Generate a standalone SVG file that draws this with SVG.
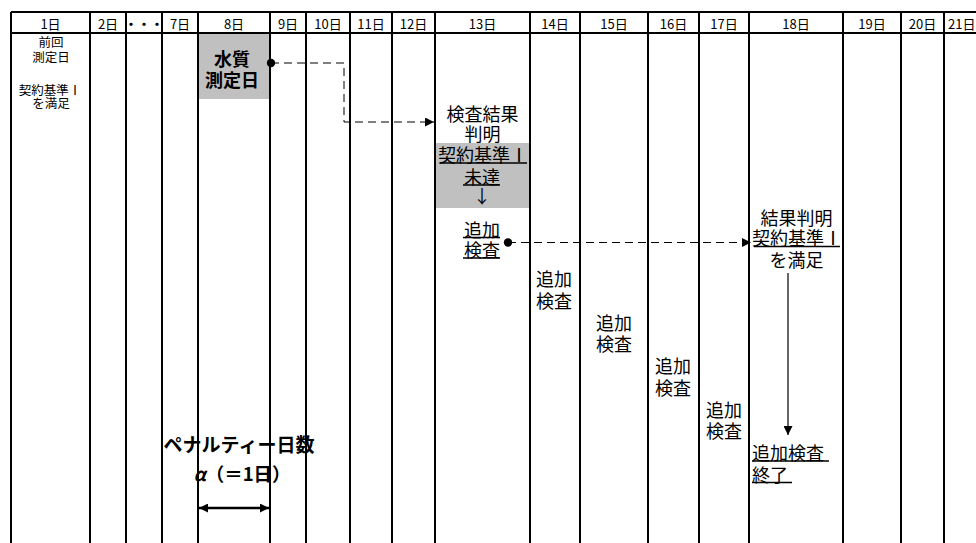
<svg xmlns="http://www.w3.org/2000/svg" width="976" height="543" viewBox="0 0 976 543">
<style>
.grid{stroke:#000;stroke-width:2;fill:none}
text{font-family:"Noto Sans CJK JP","Noto Sans CJK SC",sans-serif;fill:#000;dominant-baseline:central}
.hd{font-size:13px;text-anchor:middle}
.sm{font-size:12.5px;text-anchor:middle}
.t{font-size:18px;text-anchor:middle}
.ts{font-size:18px;text-anchor:start}
.b{font-weight:bold}
.gray{fill:#c0c0c0}
.dash{stroke:#000;stroke-width:1;stroke-dasharray:8 5;fill:none}
.ln{stroke:#000;stroke-width:1.2;fill:none}
.ul{stroke:#000;stroke-width:1.5}
</style>
<defs>
<marker id="ah" viewBox="0 0 10 10" refX="10" refY="5" markerWidth="10" markerHeight="9" orient="auto" markerUnits="userSpaceOnUse"><path d="M0,0 L10,5 L0,10 z" fill="#000" stroke="none"/></marker>
<marker id="ahs" viewBox="0 0 10 10" refX="0" refY="5" markerWidth="10" markerHeight="9" orient="auto" markerUnits="userSpaceOnUse"><path d="M10,0 L0,5 L10,10 z" fill="#000" stroke="none"/></marker>
</defs>

<g id="shading">
<rect class="gray" x="199" y="34" width="70" height="65"/>
<rect class="gray" x="436" y="143" width="93" height="65"/>
</g>

<g id="grid">
<path class="grid" d="M11,12 H976 M11,33 H976 M11,12 V543 M90,12 V543 M126,12 V543 M162,12 V543 M198,12 V543 M270,12 V543 M306,12 V543 M350,12 V543 M392,12 V543 M435,12 V543 M530,12 V543 M580,12 V543 M648,12 V543 M699,12 V543 M749,12 V543 M843,12 V543 M901,12 V543 M944,12 V543"/>
</g>

<g id="header">
<text class="hd" x="50.5" y="23">1日</text>
<text class="hd" x="108" y="23">2日</text>
<text class="hd b" x="144" y="23">・・・</text>
<text class="hd" x="180" y="23">7日</text>
<text class="hd" x="234" y="23">8日</text>
<text class="hd" x="288" y="23">9日</text>
<text class="hd" x="328" y="23">10日</text>
<text class="hd" x="371" y="23">11日</text>
<text class="hd" x="413.5" y="23">12日</text>
<text class="hd" x="482.5" y="23">13日</text>
<text class="hd" x="555" y="23">14日</text>
<text class="hd" x="614" y="23">15日</text>
<text class="hd" x="673.5" y="23">16日</text>
<text class="hd" x="724" y="23">17日</text>
<text class="hd" x="796" y="23">18日</text>
<text class="hd" x="872" y="23">19日</text>
<text class="hd" x="922.5" y="23">20日</text>
<text class="hd" x="948" y="23" style="text-anchor:start">21日</text>
</g>

<g id="prev">
<text class="sm" x="51" y="41.5">前回</text>
<text class="sm" x="51" y="56.5">測定日</text>
<text class="sm" x="50" y="89.5">契約基準Ⅰ</text>
<text class="sm" x="51" y="102.5">を満足</text>
</g>

<g id="measure">
<text class="t b" x="232" y="57.5">水質</text>
<text class="t b" x="232" y="79">測定日</text>
</g>

<g id="result13">
<text class="t" x="482.5" y="113">検査結果</text>
<text class="t" x="482.5" y="133">判明</text>
<text class="t" x="483" y="153.5">契約基準Ⅰ</text>
<line class="ul" x1="440" y1="163" x2="527" y2="163"/>
<text class="t" x="482" y="176">未達</text>
<line class="ul" x1="463" y1="185" x2="500" y2="185"/>
<text class="t" x="482" y="195">↓</text>
<text class="t" x="482" y="228.5">追加</text>
<line class="ul" x1="463" y1="237.5" x2="500" y2="237.5"/>
<text class="t" x="482" y="248.5">検査</text>
<line class="ul" x1="463" y1="258" x2="500" y2="258"/>
</g>

<g id="add14">
<text class="ts" x="536" y="278">追加</text>
<text class="ts" x="536" y="300">検査</text>
</g>
<g id="add15">
<text class="ts" x="596" y="321.5">追加</text>
<text class="ts" x="596" y="343">検査</text>
</g>
<g id="add16">
<text class="ts" x="655" y="365">追加</text>
<text class="ts" x="655" y="386.5">検査</text>
</g>
<g id="add17">
<text class="ts" x="706" y="409">追加</text>
<text class="ts" x="706" y="430">検査</text>
</g>

<g id="result18">
<text class="t" x="796.5" y="217">結果判明</text>
<text class="t" x="797" y="237">契約基準Ⅰ</text>
<line class="ul" x1="754" y1="246.5" x2="840" y2="246.5"/>
<text class="t" x="796.5" y="259">を満足</text>
</g>

<g id="end18">
<text class="ts" x="752" y="452">追加検査</text>
<line class="ul" x1="752" y1="461" x2="829" y2="461"/>
<text class="ts" x="752" y="474">終了</text>
<line class="ul" x1="752" y1="482.5" x2="792" y2="482.5"/>
</g>

<g id="penalty">
<text class="t b" x="239" y="443" style="font-size:19px">ペナルティー日数</text>
<text class="t b" x="242" y="473" style="font-size:18.5px"><tspan font-style="italic">α</tspan>（＝1日）</text>
</g>

<g id="connectors">
<circle cx="271" cy="63" r="4.2" fill="#000"/>
<path class="dash" d="M271,63 H344 V122 H434" marker-end="url(#ah)"/>
<circle cx="508" cy="242.5" r="4.2" fill="#000"/>
<path class="dash" d="M508,242.5 H751" marker-end="url(#ah)"/>
<path class="ln" d="M788,273 V435" marker-end="url(#ah)"/>
<path d="M199,508 H269" stroke="#000" stroke-width="2.5" fill="none" marker-start="url(#ahs)" marker-end="url(#ah)"/>
</g>
</svg>
